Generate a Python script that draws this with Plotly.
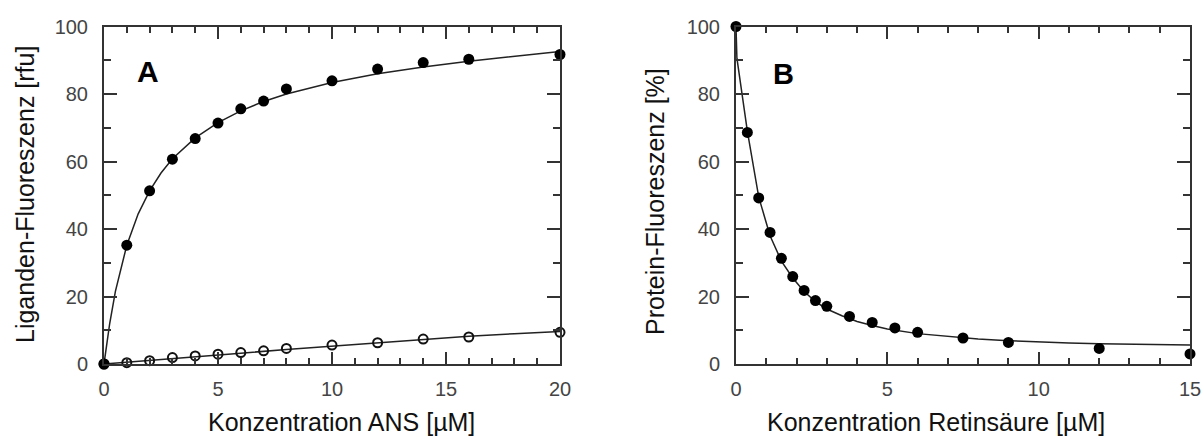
import plotly.graph_objects as go

# ---- Panel A: ANS binding (ligand fluorescence) ----
ans_conc = [0, 1, 2, 3, 4, 5, 6, 7, 8, 10, 12, 14, 16, 20]
ans_total = [0, 35.2, 51.3, 60.7, 66.8, 71.4, 75.6, 77.9, 81.5, 83.9, 87.4, 89.3, 90.3, 91.7]
ans_unspec = [0, 0.4, 1.0, 1.9, 2.4, 2.9, 3.4, 3.9, 4.6, 5.6, 6.3, 7.4, 8.0, 9.4]

fit_a_x = [0, 0.1, 0.25, 0.5, 1, 1.5, 2, 2.5, 3, 4, 5, 6, 7, 8, 10, 12, 14, 16, 18, 20]
fit_a_total = [0, 5.5, 12.0, 21.5, 35.2, 44.5, 51.3, 56.6, 60.8, 67.0, 71.5, 75.0, 77.8, 80.0,
               83.4, 86.0, 88.0, 89.7, 91.2, 92.6]
fit_a_unspec_x = [0, 2, 4, 6, 8, 10, 12, 14, 16, 18, 20]
fit_a_unspec = [0, 1.0, 2.1, 3.2, 4.3, 5.3, 6.3, 7.3, 8.2, 9.0, 9.6]

# ---- Panel B: retinoic acid titration (protein fluorescence) ----
ra_conc = [0, 0.375, 0.75, 1.125, 1.5, 1.875, 2.25, 2.625, 3, 3.75, 4.5, 5.25, 6, 7.5, 9, 12, 15]
ra_fluor = [100, 68.6, 49.2, 39.0, 31.3, 25.9, 21.8, 18.8, 17.1, 14.1, 12.3, 10.7, 9.4, 7.7, 6.4, 4.6, 3.0]

fit_b_x = [0, 0.03, 0.375, 0.75, 1.125, 1.5, 1.875, 2.25, 2.625, 3, 3.5, 4, 4.5, 5, 6, 7, 8, 9,
           10, 11, 12, 13, 14, 15]
fit_b_y = [100, 90.6, 69.0, 49.5, 38.0, 30.5, 25.5, 21.5, 18.5, 16.3, 14.3, 12.6, 11.4, 10.4,
           9.0, 8.1, 7.4, 6.9, 6.5, 6.2, 6.0, 5.8, 5.7, 5.6]

x_ticks_a = [0, 5, 10, 15, 20]
x_ticks_b = [0, 5, 10, 15]
y_ticks = [0, 20, 40, 60, 80, 100]

W, H = 1203, 441
INK = "#333333"
LABEL = "#444444"
FONT = "Liberation Sans, Arial, sans-serif"

fig = go.Figure()

line_style = dict(color="#222222", width=1.5)

fig.add_trace(go.Scatter(x=fit_a_x, y=fit_a_total, mode="lines", line=line_style,
                         xaxis="x", yaxis="y", hoverinfo="skip"))
fig.add_trace(go.Scatter(x=fit_a_unspec_x, y=fit_a_unspec, mode="lines", line=line_style,
                         xaxis="x", yaxis="y", hoverinfo="skip"))
fig.add_trace(go.Scatter(x=ans_conc, y=ans_unspec, mode="markers",
                         marker=dict(symbol="circle-open", size=9, color="#111111",
                                     line=dict(width=2, color="#111111")),
                         xaxis="x", yaxis="y", cliponaxis=False))
fig.add_trace(go.Scatter(x=ans_conc, y=ans_total, mode="markers",
                         marker=dict(symbol="circle", size=11, color="#000000"),
                         xaxis="x", yaxis="y", cliponaxis=False))

fig.add_trace(go.Scatter(x=fit_b_x, y=fit_b_y, mode="lines", line=line_style,
                         xaxis="x2", yaxis="y2", hoverinfo="skip"))
fig.add_trace(go.Scatter(x=ra_conc, y=ra_fluor, mode="markers",
                         marker=dict(symbol="circle", size=11, color="#000000"),
                         xaxis="x2", yaxis="y2", cliponaxis=False))

ydom = [(H - 364) / H, (H - 26.5) / H]


def xaxis(dom, rng, ticks, anchor):
    return dict(
        domain=dom, range=rng, anchor=anchor, tickmode="array", tickvals=ticks,
        automargin=False,
        ticks="inside", ticklen=12, tickwidth=2, tickcolor=INK,
        showline=True, linewidth=2, linecolor=INK, mirror="ticks",
        showgrid=False, zeroline=False, ticklabelstandoff=6,
        tickfont=dict(family=FONT, size=20, color=LABEL),
        minor=dict(dtick=1, ticks="inside", ticklen=6, tickwidth=2, tickcolor=INK, showgrid=False),
    )


def yaxis(anchor):
    return dict(
        domain=ydom, range=[0, 100], anchor=anchor, tickmode="array", tickvals=y_ticks,
        automargin=False,
        ticks="inside", ticklen=13, tickwidth=2, tickcolor=INK,
        showline=True, linewidth=2, linecolor=INK, mirror="ticks",
        showgrid=False, zeroline=False, ticklabelstandoff=10,
        tickfont=dict(family=FONT, size=20, color=LABEL),
        minor=dict(dtick=10, ticks="inside", ticklen=7, tickwidth=2, tickcolor=INK, showgrid=False),
    )


fig.update_layout(
    width=W, height=H,
    margin=dict(l=0, r=0, t=0, b=0, pad=0, autoexpand=False),
    paper_bgcolor="white", plot_bgcolor="white",
    showlegend=False,
    font=dict(family=FONT, color="#111111"),
    xaxis=xaxis([104 / W, 560 / W], [0, 20], x_ticks_a, "y"),
    yaxis=yaxis("x"),
    xaxis2=xaxis([736 / W, 1190 / W], [0, 15], x_ticks_b, "y2"),
    yaxis2=yaxis("x2"),
)

title_font = dict(family=FONT, size=25, color="#111111")

annotations = [
    dict(text="Konzentration ANS [µM]", x=341 / W, y=(H - 422) / H, xanchor="center",
         yanchor="middle", font=title_font),
    dict(text="Konzentration Retinsäure [µM]", x=936 / W, y=(H - 422) / H, xanchor="center",
         yanchor="middle", font=title_font),
    dict(text="Liganden-Fluoreszenz [rfu]", x=25 / W, y=(H - 195) / H, xanchor="center",
         yanchor="middle", textangle=-90, font=title_font),
    dict(text="Protein-Fluoreszenz [%]", x=655 / W, y=(H - 202) / H, xanchor="center",
         yanchor="middle", textangle=-90, font=title_font),
    dict(text="<b>A</b>", x=148 / W, y=(H - 71) / H, xanchor="center", yanchor="middle",
         font=dict(family=FONT, size=30, color="#000000")),
    dict(text="<b>B</b>", x=783 / W, y=(H - 74) / H, xanchor="center", yanchor="middle",
         font=dict(family=FONT, size=29, color="#000000")),
]
for a in annotations:
    a.update(xref="paper", yref="paper", showarrow=False)
fig.update_layout(annotations=annotations)

fig.write_html("out.html")
